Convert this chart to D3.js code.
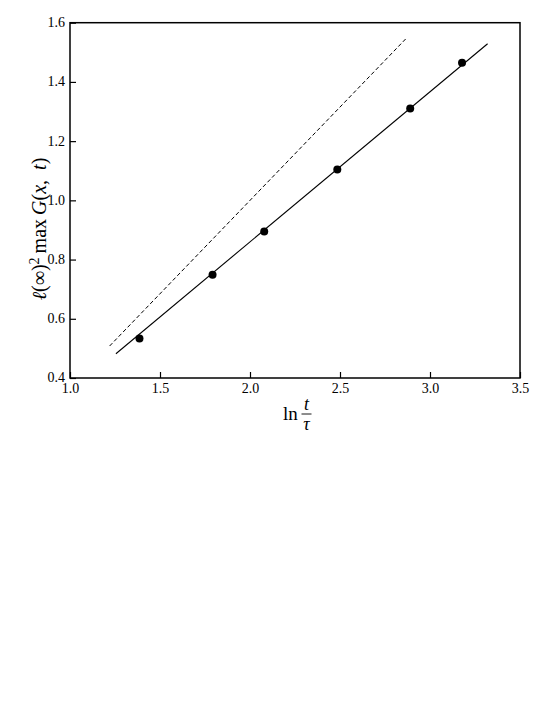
<!DOCTYPE html>
<html>
<head>
<meta charset="utf-8">
<script src="https://cdn.jsdelivr.net/npm/d3@7"></script>
<style>
  html, body { margin: 0; padding: 0; background: #fff; }
  svg { display: block; }
  text { font-family: "Liberation Serif", "Times New Roman", serif; fill: #000; }
</style>
</head>
<body>
<svg id="chart" width="554" height="717"></svg>
<script>
// ---- data ----
const pointX = [1.386, 1.792, 2.079, 2.485, 2.890, 3.178];
const pointY = [0.533, 0.749, 0.895, 1.104, 1.310, 1.465];
const solidLineX = [1.255, 3.320];
const solidLineY = [0.482, 1.529];
const dashedLineX = [1.220, 2.871];
const dashedLineY = [0.508, 1.549];
const xTicks = [1.0, 1.5, 2.0, 2.5, 3.0, 3.5];
const yTicks = [0.4, 0.6, 0.8, 1.0, 1.2, 1.4, 1.6];

// ---- layout ----
const svg = d3.select("#chart");
const pLeft = 70, pRight = 520, pTop = 22.7, pBottom = 378;
const serif = '"Liberation Serif", "Times New Roman", serif';

const x = d3.scaleLinear().domain([1.0, 3.5]).range([pLeft, pRight]);
const y = d3.scaleLinear().domain([0.4, 1.6]).range([pBottom, pTop]);

// frame
svg.append("rect")
  .attr("x", pLeft).attr("y", pTop)
  .attr("width", pRight - pLeft).attr("height", pBottom - pTop)
  .attr("fill", "none").attr("stroke", "#000").attr("stroke-width", 1.5);

// axes
const xAxis = d3.axisBottom(x).tickValues(xTicks).tickFormat(d3.format(".1f"))
  .tickSizeInner(-6).tickSizeOuter(0).tickPadding(5);
const yAxis = d3.axisLeft(y).tickValues(yTicks).tickFormat(d3.format(".1f"))
  .tickSizeInner(-6).tickSizeOuter(0).tickPadding(5);

const gx = svg.append("g").attr("transform", `translate(0,${pBottom})`).call(xAxis);
const gy = svg.append("g").attr("transform", `translate(${pLeft},0)`).call(yAxis);
[gx, gy].forEach(g => {
  g.attr("font-family", serif).attr("font-size", 14);
  g.select(".domain").remove();
  g.selectAll(".tick line").attr("stroke", "#000").attr("stroke-width", 1.2);
  g.selectAll(".tick text").attr("fill", "#000");
});
gy.selectAll(".tick text").attr("dy", "0.28em");

// lines
const line = d3.line().x(d => x(d[0])).y(d => y(d[1]));
svg.append("path")
  .datum(dashedLineX.map((v, i) => [v, dashedLineY[i]]))
  .attr("d", line).attr("fill", "none").attr("stroke", "#000")
  .attr("stroke-width", 1).attr("stroke-dasharray", "4,2.5");
svg.append("path")
  .datum(solidLineX.map((v, i) => [v, solidLineY[i]]))
  .attr("d", line).attr("fill", "none").attr("stroke", "#000")
  .attr("stroke-width", 1.1);

// points
svg.append("g").selectAll("circle")
  .data(pointX.map((v, i) => [v, pointY[i]]))
  .join("circle")
  .attr("cx", d => x(d[0])).attr("cy", d => y(d[1]))
  .attr("r", 4).attr("fill", "#000");

// y label
const yl = svg.append("text")
  .attr("transform", "translate(46,229) rotate(-90)")
  .attr("text-anchor", "middle")
  .attr("font-family", serif)
  .style("font-size", "20px");
yl.append("tspan").style("font-style", "italic").text("ℓ");
yl.append("tspan").text("(∞)");
yl.append("tspan").attr("dy", -7).style("font-size", "14px").text("2");
yl.append("tspan").attr("dy", 7).text("\u2009max\u2009");
yl.append("tspan").style("font-style", "italic").text("G");
yl.append("tspan").text("(");
yl.append("tspan").style("font-style", "italic").text("x");
yl.append("tspan").text(",\u2002");
yl.append("tspan").style("font-style", "italic").text("t");
yl.append("tspan").text(")");

// x label: ln t/τ
const xl = svg.append("g").attr("font-family", serif);
xl.append("text").attr("x", 283).attr("y", 420).style("font-size", "19px").text("ln");
xl.append("text").attr("x", 306.5).attr("y", 410).attr("text-anchor", "middle")
  .style("font-size", "18px").style("font-style", "italic").text("t");
xl.append("line").attr("x1", 301.5).attr("x2", 311.5).attr("y1", 414).attr("y2", 414)
  .attr("stroke", "#000").attr("stroke-width", 0.9);
xl.append("text").attr("x", 306.5).attr("y", 429.5).attr("text-anchor", "middle")
  .style("font-size", "18px").style("font-style", "italic").text("τ");
</script>
</body>
</html>
